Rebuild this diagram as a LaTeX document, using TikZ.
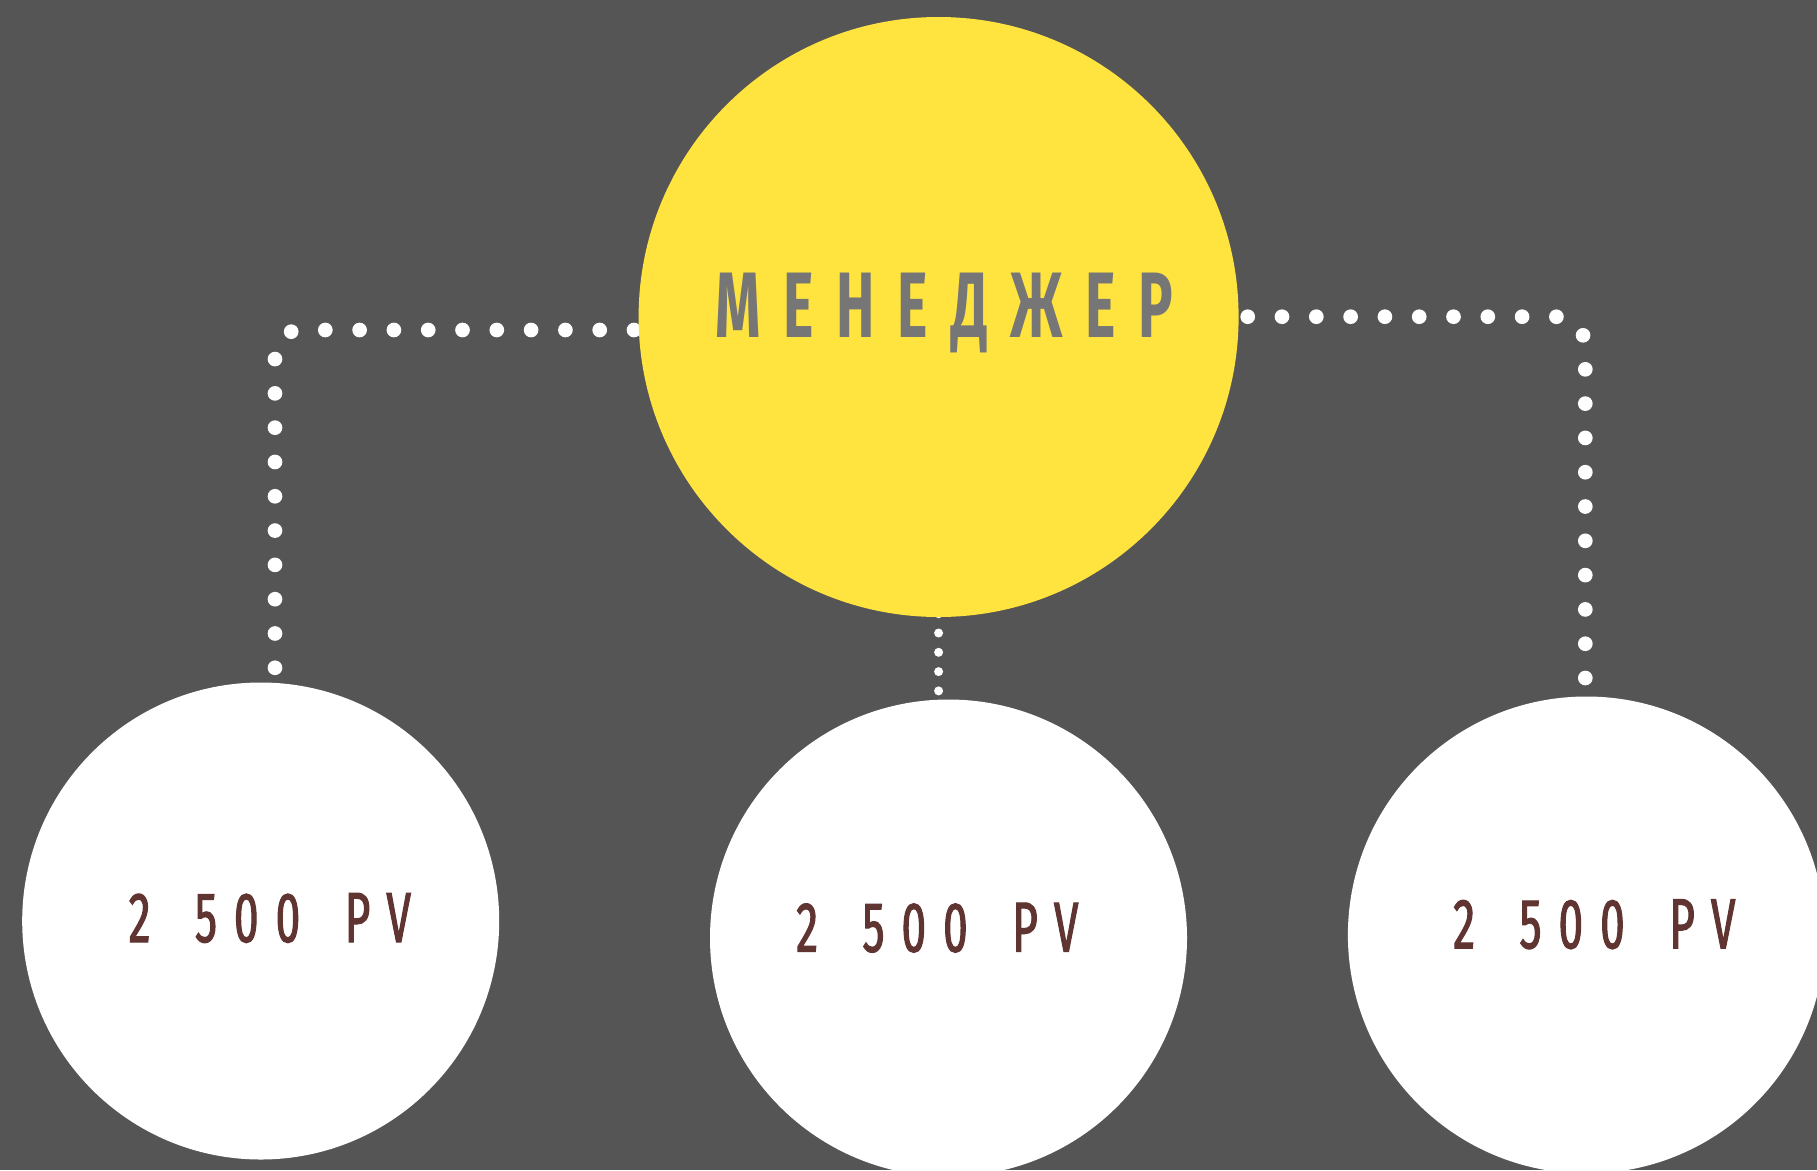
\documentclass[tikz,border=0pt]{standalone}
\usepackage{fontspec}
\newfontfamily\headfont{Fira Sans}[FakeStretch=0.62,LetterSpace=24.5]
\newfontfamily\numfont{Fira Sans}[FakeStretch=0.62,LetterSpace=24,WordSpace=1.55,FakeBold=1.5]
\usetikzlibrary{calc}
\definecolor{bgc}{HTML}{555555}
\definecolor{yel}{HTML}{FFE33F}
\definecolor{headc}{HTML}{767676}
\definecolor{numc}{HTML}{5F3431}
\pgfdeclarelayer{back}
\pgfdeclarelayer{lines}
\pgfsetlayers{back,lines,main}
\tikzset{
  circ/.style={circle, inner sep=0pt, draw=none},
  bigcirc/.style={circ, fill=yel, minimum size=600pt},
  smallcirc/.style={circ, fill=white, minimum size=477pt},
  dotbig/.style={white, line width=14.7pt, line cap=round, dash pattern=on 0pt off 34.3pt},
  dotsmall/.style={white, line width=9pt, line cap=round, dash pattern=on 0pt off 19.3pt},
  headtext/.style={anchor=base west, inner sep=0pt, text=headc, font=\headfont\bfseries\fontsize{93}{93}\selectfont},
  numtext/.style={anchor=base west, inner sep=0pt, text=numc, font=\numfont\fontsize{71}{71}\selectfont}
}
\begin{document}
\begin{tikzpicture}[x=1pt,y=-1pt]
\useasboundingbox (0,0) rectangle (1817,1170);
\clip (0,0) rectangle (1817,1170);
\begin{pgfonlayer}{back}
\fill[bgc] (0,0) rectangle (1817,1170);
\end{pgfonlayer}
\node[bigcirc] (mgr) at (938.6,317) {};
\node[smallcirc] (left) at (260.7,921) {};
\node[smallcirc] (mid) at (948.5,938) {};
\node[smallcirc] (right) at (1586.4,935) {};
\node[headtext] (mgrtext) at (715,337) {МЕНЕДЖЕР};
\node[numtext] (lefttext) at (128.5,942) {2 500 PV};
\node[numtext] (midtext) at (796,951.7) {2 500 PV};
\node[numtext] (righttext) at (1453,948.3) {2 500 PV};
\coordinate (lc) at (275,330);
\coordinate (rc) at (1585.3,316.7);
\begin{pgfonlayer}{lines}
\draw[dotbig, rounded corners=25pt, dash phase=4.1pt] (mgr.center |- lc) -- (lc) -- (lc |- left.center);
\draw[dotbig, rounded corners=30pt, dash phase=33.9pt] (mgr.center |- rc) -- (rc) -- (rc |- right.center);
\draw[dotsmall, dash phase=12.1pt] (mgr.center) -- (mgr.center |- mid.center);
\end{pgfonlayer}
\end{tikzpicture}
\end{document}
